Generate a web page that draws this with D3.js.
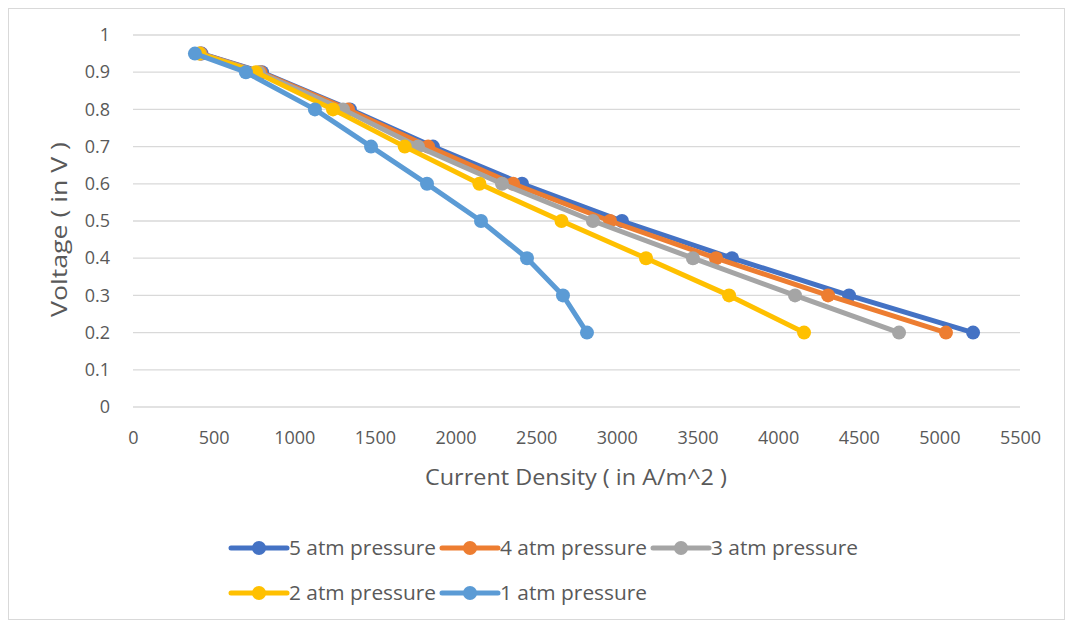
<!DOCTYPE html>
<html><head><meta charset="utf-8">
<script src="https://cdn.jsdelivr.net/npm/d3@7"></script>
<style>body{margin:0;background:#fff;} text{font-family:"Open Sans",sans-serif;}</style>
</head><body>
<svg id="c" width="1066" height="622"></svg>
<script>
const voltages = [0.95, 0.9, 0.8, 0.7, 0.6, 0.5, 0.4, 0.3, 0.2];
const atm5 = [425, 800, 1345, 1860, 2412, 3032, 3714, 4440, 5209];
const atm4 = [420, 790, 1333, 1830, 2357, 2958, 3615, 4310, 5041];
const atm3 = [415, 780, 1302, 1767, 2288, 2852, 3472, 4105, 4750];
const atm2 = [412, 762, 1240, 1685, 2148, 2657, 3181, 3696, 4161];
const atm1 = [384, 700, 1128, 1476, 1823, 2158, 2443, 2666, 2815];
const seriesNames = ["5 atm pressure", "4 atm pressure", "3 atm pressure", "2 atm pressure", "1 atm pressure"];
const seriesColors = ["#4472C4", "#ED7D31", "#A5A5A5", "#FFC000", "#5B9BD5"];
const xTicks = [0,500,1000,1500,2000,2500,3000,3500,4000,4500,5000,5500];
const yTicks = [0,0.1,0.2,0.3,0.4,0.5,0.6,0.7,0.8,0.9,1];

const seriesX = [atm5, atm4, atm3, atm2, atm1];
const series = seriesNames.map((n,i)=>({name:n,color:seriesColors[i],pts:voltages.map((v,j)=>({x:seriesX[i][j],y:v}))}));

const svg = d3.select("#c");
svg.append("rect").attr("x",8.5).attr("y",8.5).attr("width",1056).attr("height",611).attr("fill","#fff").attr("stroke","#D9D9D9");

const x = d3.scaleLinear().domain([0,5500]).range([133,1020]);
const y = d3.scaleLinear().domain([0,1]).range([407,35]);

svg.append("g").selectAll("line").data(yTicks).join("line")
  .attr("x1",133).attr("x2",1020).attr("y1",d=>y(d)).attr("y2",d=>y(d))
  .attr("stroke","#D9D9D9").attr("stroke-width",1.3);

const xa = svg.append("g").attr("transform","translate(0,407)")
  .call(d3.axisBottom(x).tickValues(xTicks).tickSize(0).tickPadding(24).tickFormat(d3.format("d")));
xa.select(".domain").remove();
xa.selectAll("text").attr("fill","#595959").attr("font-size",18).attr("font-family","Lato, sans-serif");

const ya = svg.append("g").attr("transform","translate(133,0)")
  .call(d3.axisLeft(y).tickValues(yTicks).tickSize(0).tickPadding(23).tickFormat(d=>d3.format("")(d)));
ya.select(".domain").remove();
ya.selectAll("text").attr("fill","#595959").attr("font-size",18).attr("font-family","Lato, sans-serif");

svg.append("text").attr("x",425).attr("y",485).attr("textLength",302).attr("lengthAdjust","spacingAndGlyphs")
  .attr("fill","#595959").attr("font-size",21.5).text("Current Density ( in A/m^2 )");
svg.append("text").attr("transform","translate(67,317) rotate(-90)").attr("textLength",175).attr("lengthAdjust","spacingAndGlyphs")
  .attr("fill","#595959").attr("font-size",21.5).text("Voltage ( in V )");

const line = d3.line().x(d=>x(d.x)).y(d=>y(d.y));
series.forEach(s=>{
  const g = svg.append("g");
  g.append("path").attr("d",line(s.pts)).attr("fill","none").attr("stroke",s.color).attr("stroke-width",5).attr("stroke-linejoin","round").attr("stroke-linecap","round");
  g.selectAll("circle").data(s.pts).join("circle").attr("cx",d=>x(d.x)).attr("cy",d=>y(d.y)).attr("r",7).attr("fill",s.color);
});

const legPos = [[231,548],[442,548],[653,548],[231,593],[442,593]];
series.forEach((s,i)=>{
  const [lx,ly] = legPos[i];
  const g = svg.append("g");
  g.append("line").attr("x1",lx).attr("x2",lx+56).attr("y1",ly).attr("y2",ly).attr("stroke",s.color).attr("stroke-width",5).attr("stroke-linecap","round");
  g.append("circle").attr("cx",lx+28).attr("cy",ly).attr("r",7).attr("fill",s.color);
  g.append("text").attr("x",lx+58).attr("y",ly+7).attr("textLength",147).attr("lengthAdjust","spacingAndGlyphs")
    .attr("fill","#595959").attr("font-size",20.5).text(s.name);
});
</script>
</body></html>
